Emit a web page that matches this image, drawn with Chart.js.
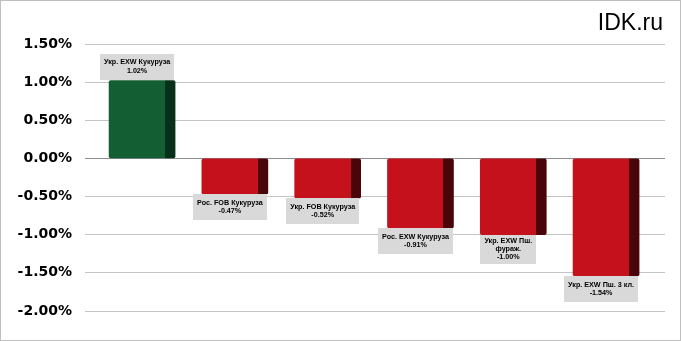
<!DOCTYPE html>
<html>
<head>
<meta charset="utf-8">
<script src="https://cdn.jsdelivr.net/npm/chart.js@4"></script>
<style>
  html, body { margin: 0; padding: 0; background: #fff; }
  #wrap { position: relative; width: 681px; height: 341px; }
</style>
</head>
<body>
<div id="wrap"><canvas id="chart" width="681" height="341"></canvas></div>
<script>
// data
var categories = [
    ["Укр. EXW Кукуруза"],
    ["Рос. FOB Кукуруза"],
    ["Укр. FOB Кукуруза"],
    ["Рос. EXW Кукуруза"],
    ["Укр. EXW Пш.", "фураж."],
    ["Укр. EXW Пш. 3 кл."]
];
var changes = [1.02, -0.47, -0.52, -0.91, -1.00, -1.54];
var yTicks = [1.5, 1.0, 0.5, 0.0, -0.5, -1.0, -1.5, -2.0];

var BAR_W = 66, SIDE_W = 10;

// front face + darker side face, like the old 3D excel columns
function barFill(ctx) {
    var v = ctx.raw ? ctx.raw.y : 0;
    var front = v >= 0 ? "#135e33" : "#c5111c";
    var side = v >= 0 ? "#07301a" : "#4a050b";
    var chart = ctx.chart;
    var xs = chart.scales.x;
    if (!xs || !chart.chartArea || !ctx.raw) return front;
    var left = xs.getPixelForValue(ctx.raw.x) - BAR_W / 2;
    var g = chart.ctx.createLinearGradient(left, 0, left + BAR_W, 0);
    var s = (BAR_W - SIDE_W) / BAR_W;
    g.addColorStop(0, front);
    g.addColorStop(s, front);
    g.addColorStop(s, side);
    g.addColorStop(1, side);
    return g;
}

var labelPlugin = {
    id: "boxLabels",
    afterDatasetsDraw: function (chart) {
        var c = chart.ctx;
        var meta = chart.getDatasetMeta(0);
        c.save();
        c.font = "bold 7.2px 'Liberation Sans', Arial, sans-serif";
        c.textAlign = "center";
        c.textBaseline = "middle";
        meta.data.forEach(function (bar, i) {
            var lines = categories[i].concat([changes[i].toFixed(2) + "%"]);
            var w = 0;
            lines.forEach(function (l) { w = Math.max(w, c.measureText(l).width); });
            var bw = w + 8;
            var lh = 8.3;
            var bh = Math.max(26, lines.length * lh + 4);
            var cx = bar.x - SIDE_W / 2;
            var top = changes[i] >= 0 ? bar.y - 1 - bh : bar.y;
            c.fillStyle = "#d9d9d9";
            c.fillRect(Math.round(cx - bw / 2), Math.round(top), Math.round(bw), Math.round(bh));
            c.fillStyle = "#000";
            var y0 = top + bh / 2 - (lines.length - 1) * lh / 2;
            lines.forEach(function (l, k) { c.fillText(l, cx, y0 + k * lh); });
        });
        c.restore();
    },
    afterDraw: function (chart) {
        var c = chart.ctx;
        c.save();
        c.font = "23px 'Liberation Sans', Arial, sans-serif";
        c.fillStyle = "#000";
        c.textAlign = "right";
        c.textBaseline = "alphabetic";
        c.fillText("IDK.ru", 663, 30);
        c.strokeStyle = "#bfbfbf";
        c.lineWidth = 1;
        c.strokeRect(0.5, 0.5, chart.width - 1, chart.height - 1);
        c.restore();
    }
};

var ctx = document.getElementById("chart").getContext("2d");
new Chart(ctx, {
    type: "bar",
    data: {
        datasets: [{
            data: changes.map(function (v, i) { return { x: i, y: v }; }),
            backgroundColor: barFill,
            barThickness: BAR_W,
            borderRadius: 2,
            borderSkipped: false
        }]
    },
    options: {
        responsive: false,
        animation: false,
        layout: { padding: { top: 44, bottom: 30, left: 0, right: 16 } },
        plugins: { legend: { display: false }, tooltip: { enabled: false } },
        scales: {
            x: {
                type: "linear",
                offset: false,
                min: -0.615,
                max: 5.635,
                display: false
            },
            y: {
                min: yTicks[yTicks.length - 1],
                max: yTicks[0],
                afterFit: function (scale) { scale.width = 85; },
                afterBuildTicks: function (scale) {
                    scale.ticks = yTicks.map(function (v) { return { value: v }; });
                },
                border: { display: false },
                grid: {
                    drawTicks: false,
                    lineWidth: 1,
                    color: function (c) { return c.tick && c.tick.value === 0 ? "#8c8c8c" : "#c4c4c4"; }
                },
                ticks: {
                    padding: 13,
                    color: "#000",
                    font: { family: "'DejaVu Sans', sans-serif", size: 14, weight: "bold" },
                    callback: function (v) { return Number(v).toFixed(2) + "%"; }
                }
            }
        }
    },
    plugins: [labelPlugin]
});
</script>
</body>
</html>
